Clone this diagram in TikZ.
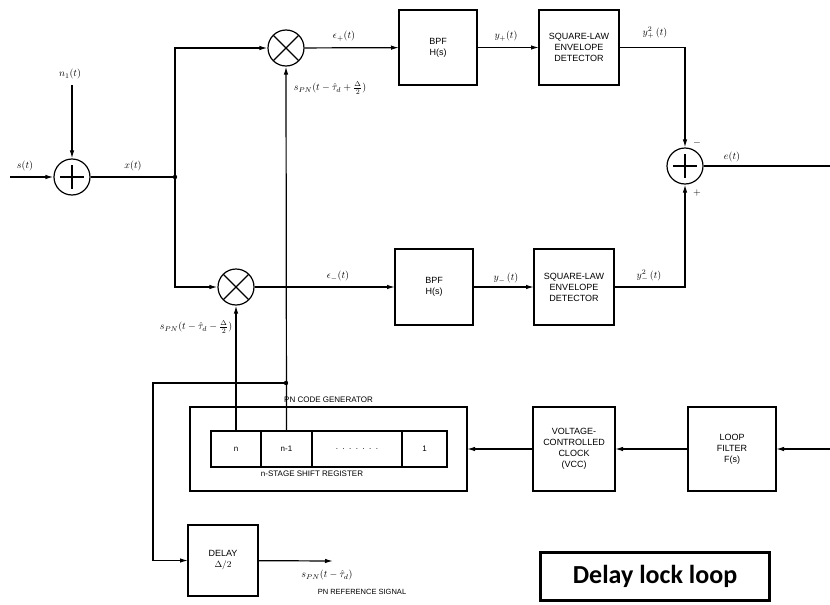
\documentclass[tikz,border=0pt]{standalone}
\usepackage{amsmath}
\usepackage{fontspec}
\setmainfont{Liberation Sans}
\newfontfamily\carlito{Carlito}
\usetikzlibrary{arrows.meta,positioning}

\begin{document}
\begin{tikzpicture}[x=1pt,y=-1pt,line width=1.2pt,>={Latex[length=8pt,width=4.5pt]},
  block/.style={draw,align=center,inner sep=0pt,outer sep=0pt,font=\fontsize{9}{11}\selectfont},
  cell/.style={draw,inner sep=0pt,outer sep=0pt,minimum height=36pt,font=\fontsize{8}{10}\selectfont},
  lbl/.style={inner sep=1pt,font=\fontsize{10}{11}\selectfont},
  adder/.style={circle,draw,minimum size=36pt,inner sep=0pt,
    path picture={\draw (path picture bounding box.center) +(0,-12) -- +(0,12)
      (path picture bounding box.center) +(-12,0) -- +(12,0);}},
  mixer/.style={circle,draw,minimum size=36pt,inner sep=0pt,
    path picture={\draw (path picture bounding box.north west) -- (path picture bounding box.south east)
      (path picture bounding box.north east) -- (path picture bounding box.south west);}}]
\useasboundingbox (0,0) rectangle (830,605);

\node [adder] (add1) at (72,177) {};
\node [mixer] (mulp) at (286,48) {};
\node [mixer] (mulm) at (236,287) {};
\node [block,minimum width=78pt,minimum height=75pt] (bpfp) at (438,47.5) {BPF\\H(s)};
\node [block,minimum width=80pt,minimum height=75pt] (sqp) at (579,47.5) {SQUARE-LAW\\ENVELOPE\\DETECTOR};
\node [block,minimum width=78pt,minimum height=76pt] (bpfm) at (434,287) {BPF\\H(s)};
\node [block,minimum width=80pt,minimum height=76pt] (sqm) at (574,287) {SQUARE-LAW\\ENVELOPE\\DETECTOR};
\node [adder] (sum) at (685,166) {};

\node [block,minimum width=277pt,minimum height=84pt] (pngen) at (328.5,449) {};
\node [lbl,above=3pt of pngen,font=\fontsize{8}{10}\selectfont] (lpn) {PN CODE GENERATOR};
\node [cell,minimum width=50pt] (cn) at (236,449) {n};
\node [cell,minimum width=51pt,right=0pt of cn] (cnm) {n-1};
\node [cell,minimum width=90pt,right=0pt of cnm] (cdots) {.\ \ .\ \ .\ \ .\ \ .\ \ .\ \ .};
\node [cell,minimum width=45pt,right=0pt of cdots] (cone) {1};
\node [lbl,below=2pt of cnm.south east,font=\fontsize{8}{10}\selectfont] (lsr) {n-STAGE SHIFT REGISTER};
\node [block,minimum width=82pt,minimum height=84pt] (vcc) at (574,449) {VOLTAGE-\\CONTROLLED\\CLOCK\\(VCC)};
\node [block,minimum width=88pt,minimum height=84pt] (lf) at (732,449) {LOOP\\FILTER\\F(s)};
\node [block,minimum width=70pt,minimum height=71pt] (dly) at (223,560.5) {DELAY\\$\Delta/2$};

\coordinate (in) at (10,177);
\coordinate (nin) at (72,85);
\coordinate (jx) at (175,177);
\coordinate (jpn) at (286,383);
\coordinate (lft) at (153,383);
\coordinate (out) at (830,166);
\coordinate (lfin) at (830,449);
\coordinate (ref) at (333,561);

\draw [->] (in) -- (add1);
\draw [->] (nin) -- (add1);
\draw (add1) -- (jx);
\fill (jx) circle (2.2);
\draw [->] (jx) |- (mulp);
\draw [->] (jx) |- (mulm);
\draw [->] (mulp) -- (bpfp);
\draw [->] (bpfp) -- (sqp);
\draw [->] (sqp) -| (sum);
\draw [->] (mulm) -- (bpfm);
\draw [->] (bpfm) -- (sqm);
\draw [->] (sqm) -| (sum);
\draw (sum) -- (out);
\draw [->] (cnm.north) -- (mulp.south);
\draw [->] (cn.north) -- (mulm.south);
\fill (jpn) circle (2.2);
\draw [->] (jpn) -- (lft) |- (dly);
\draw [->] (dly) -- (ref);
\draw [->] (lfin) -- (lf);
\draw [->] (lf) -- (vcc);
\draw [->] (vcc) -- (pngen);

\node [lbl] (ls) at (25,166) {$s(t)$};
\node [lbl] (ln) at (70,74) {$n_1(t)$};
\node [lbl] (lx) at (133,166) {$x(t)$};
\node [lbl] (lep) at (344,36) {$\epsilon_+(t)$};
\node [lbl] (lyp) at (506,36) {$y_+(t)$};
\node [lbl] (lyp2) at (655,33) {$y_+^2\,(t)$};
\node [lbl] (lem) at (338,276) {$\epsilon_-(t)$};
\node [lbl] (lym) at (506,278) {$y_-\,(t)$};
\node [lbl] (lym2) at (649,276) {$y_-^2\,(t)$};
\node [lbl] (le) at (732,157) {$e(t)$};
\node [lbl] (lminus) at (697,143) {$-$};
\node [lbl] (lplus) at (697,193) {$+$};
\node [lbl] (lsp) at (330,88) {$s_{PN}(t-\hat{\tau}_d+\tfrac{\Delta}{2})$};
\node [lbl] (lsm) at (196,327) {$s_{PN}(t-\hat{\tau}_d-\tfrac{\Delta}{2})$};
\node [lbl] (lref) at (327,575) {$s_{PN}(t-\hat{\tau}_d)$};
\node [lbl,font=\fontsize{7.5}{9}\selectfont] (lrefs) at (362,592) {PN REFERENCE SIGNAL};

\node [draw,line width=3pt,minimum width=229pt,minimum height=48pt,font=\carlito\bfseries\fontsize{26}{30}\selectfont] (title) at (655,576.5) {Delay lock loop};
\end{tikzpicture}
\end{document}
